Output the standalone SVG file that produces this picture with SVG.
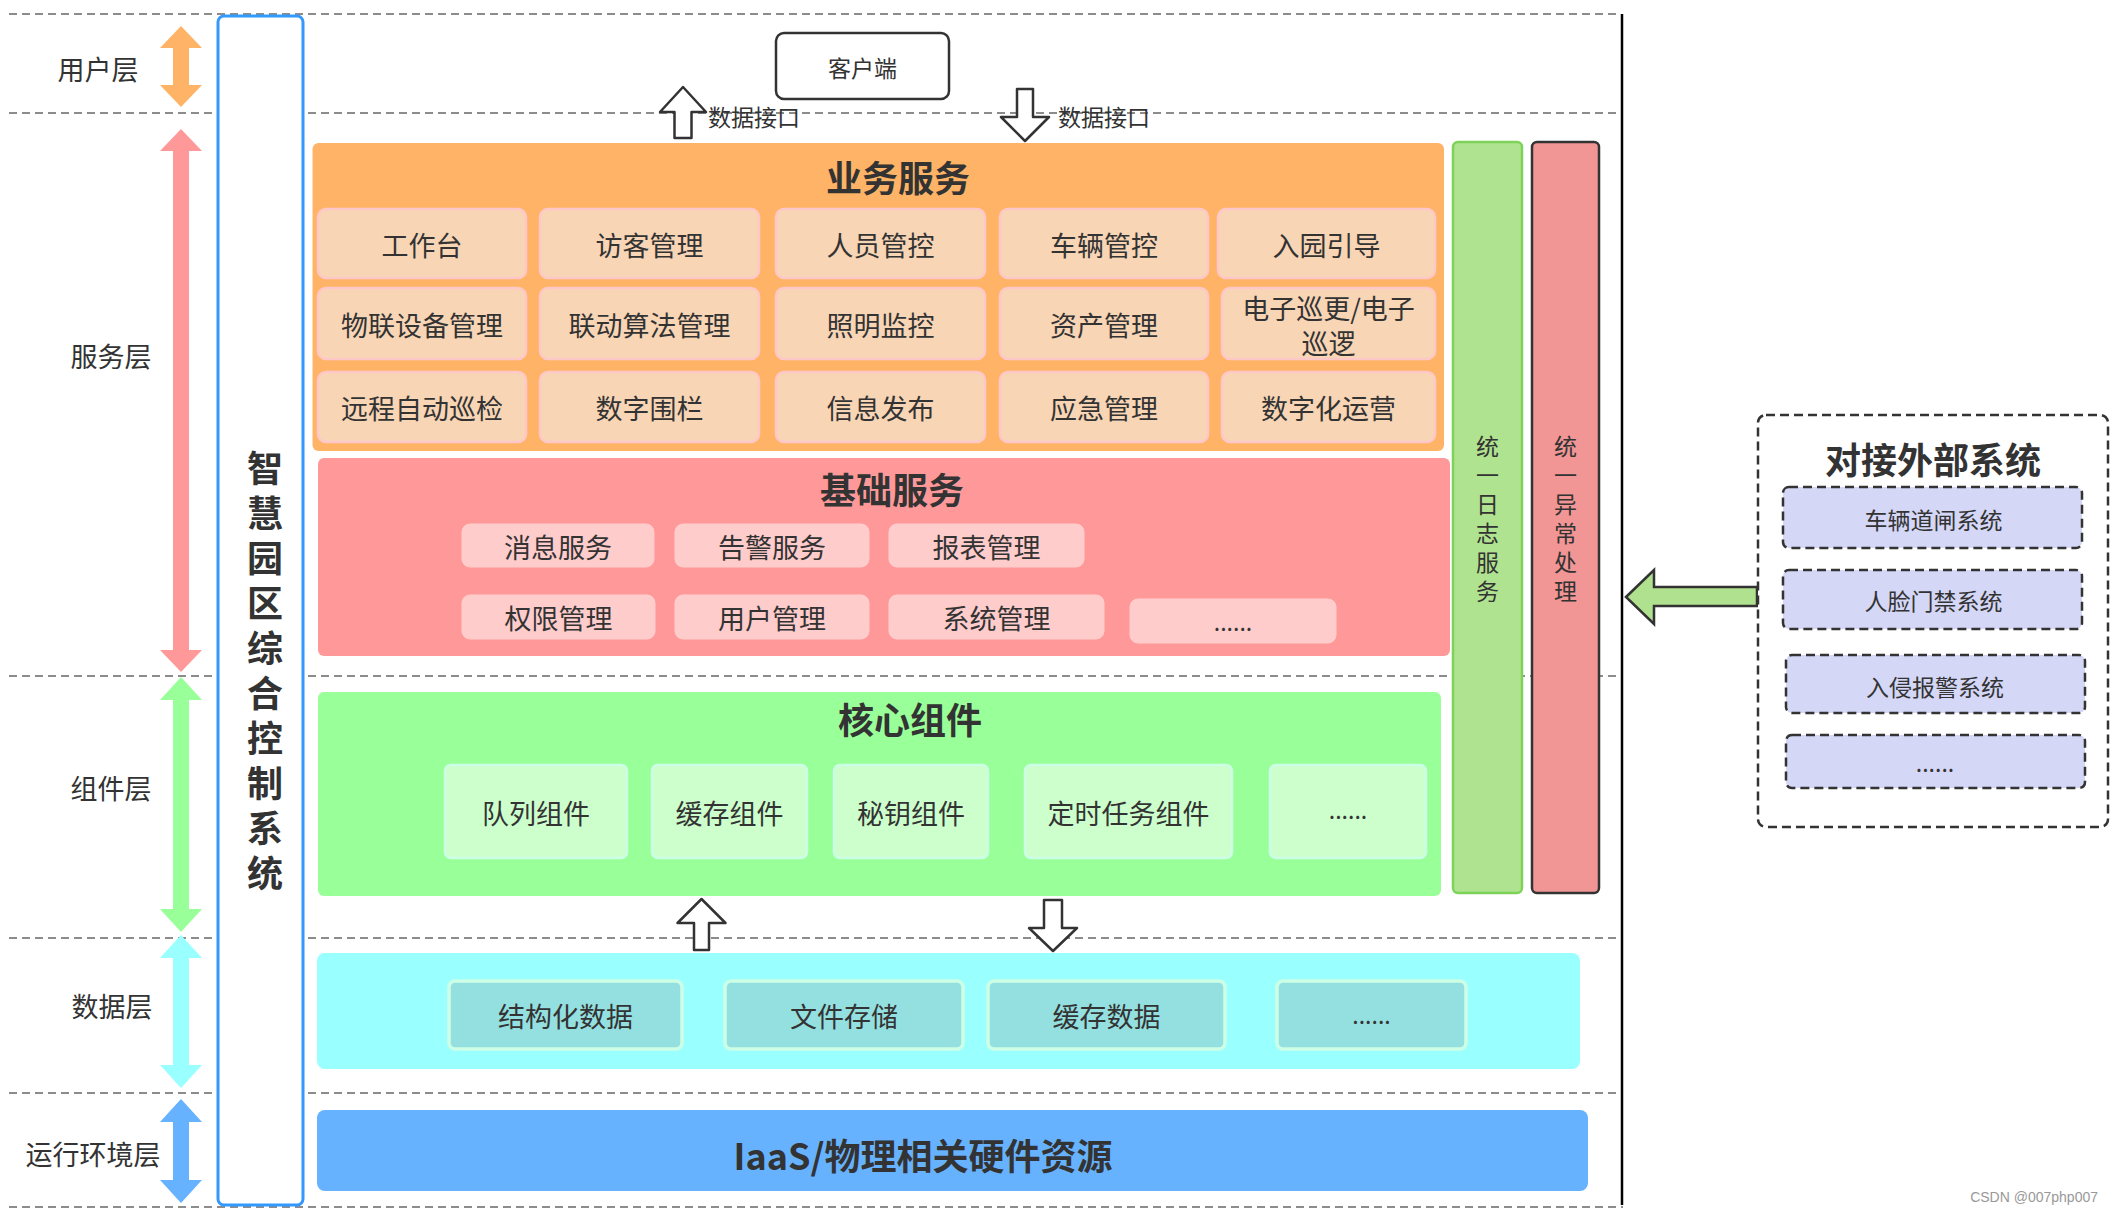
<svg xmlns="http://www.w3.org/2000/svg" width="2113" height="1215" viewBox="0 0 2113 1215">
<style>
.t{font-family:"Noto Sans CJK SC","Noto Sans",sans-serif;fill:#333;text-anchor:middle;dominant-baseline:central}
.v{font-family:"Noto Sans CJK SC","Noto Sans",sans-serif;fill:#333;writing-mode:vertical-rl;text-anchor:start}
.f27{font-size:27px}
.f23{font-size:23px}
.f26{font-size:26px}
.b36{font-size:36px;font-weight:bold}
.dash{stroke:#8c8c8c;stroke-width:2;stroke-dasharray:8 5;fill:none}
.oc{fill:#f8d5b5;stroke:#ffc8c8;stroke-width:2.5}
.pc{fill:#ffcccc;stroke:#ffcccc;stroke-width:1}
.gc{fill:#ccffcc;stroke:#ccffe6;stroke-width:2.5}
.dc{fill:#94e0e0;stroke:#ccffe6;stroke-width:3.5}
.ec{fill:#d5d7f7;stroke:#333;stroke-width:2.5;stroke-dasharray:9 5}
.hollow{fill:#fff;stroke:#333;stroke-width:2.5;stroke-linejoin:round}
</style>
<rect width="2113" height="1215" fill="#fff"/>
<g id="layer-lines">
<line class="dash" x1="9" y1="14" x2="1620" y2="14"/>
<line class="dash" x1="9" y1="113" x2="1620" y2="113"/>
<line class="dash" x1="9" y1="676" x2="1620" y2="676"/>
<line class="dash" x1="9" y1="938" x2="1620" y2="938"/>
<line class="dash" x1="9" y1="1093" x2="1620" y2="1093"/>
<line class="dash" x1="9" y1="1207" x2="1623" y2="1207"/>
<line x1="1622" y1="14" x2="1622" y2="1205" stroke="#000" stroke-width="2.5"/>
</g>
<g id="layer-labels">
<text class="t f27" x="98" y="68">用户层</text>
<text class="t f27" x="111" y="355">服务层</text>
<text class="t f27" x="111" y="787">组件层</text>
<text class="t f27" x="112" y="1005">数据层</text>
<text class="t f27" x="93" y="1153">运行环境层</text>
<polygon fill="#ffb366" points="181,26 202,48 189,48 189,85 202,85 181,107 160,85 173,85 173,48 160,48"/>
<polygon fill="#ff9999" points="181,129 202,151 189,151 189,650 202,650 181,672 160,650 173,650 173,151 160,151"/>
<polygon fill="#99ff99" points="181,677 202,700 189,700 189,909 202,909 181,932 160,909 173,909 173,700 160,700"/>
<polygon fill="#99ffff" points="181,935 202,958 189,958 189,1065 202,1065 181,1088 160,1065 173,1065 173,958 160,958"/>
<polygon fill="#66b2ff" points="181,1099 202,1122 189,1122 189,1180 202,1180 181,1203 160,1180 173,1180 173,1122 160,1122"/>
</g>
<g id="system">
<rect x="218" y="16" width="85" height="1189" rx="6" fill="#fff" stroke="#3399ff" stroke-width="3"/>
<text class="v" x="265" y="450" font-size="36" font-weight="bold" letter-spacing="9">智慧园区综合控制系统</text>
</g>
<g id="client">
<rect x="776" y="33" width="173" height="66" rx="8" fill="#fff" stroke="#333" stroke-width="2.5"/>
<text class="t f23" x="862.5" y="67">客户端</text>
</g>
<g id="connectors">
<polygon class="hollow" points="683,87 706,112 691.5,112 691.5,138 674.5,138 674.5,112 660,112"/>
<polygon class="hollow" points="1017,89 1033,89 1033,117 1049,117 1025,141 1001,117 1017,117"/>
<text class="t f23" x="754" y="116">数据接口</text>
<text class="t f23" x="1104" y="116">数据接口</text>
<polygon class="hollow" points="701.5,899 725.5,923 709,923 709,950 694,950 694,923 677.5,923"/>
<polygon class="hollow" points="1044,900 1062,900 1062,928 1077,928 1053,951 1029,928 1044,928"/>
<polygon fill="#b0e18e" stroke="#333" stroke-width="2.5" stroke-linejoin="miter" points="1626,597 1654,570 1654,587 1757,587 1757,606 1654,606 1654,624"/>
</g>
<g id="business">
<rect x="312.5" y="143" width="1131.5" height="308" rx="6" fill="#ffb366"/>
<text class="t b36" x="898" y="176">业务服务</text>
<rect class="oc" x="318" y="209" width="208" height="69" rx="8"/>
<rect class="oc" x="540" y="209" width="219" height="69" rx="8"/>
<rect class="oc" x="776" y="209" width="209" height="69" rx="8"/>
<rect class="oc" x="1000" y="209" width="208" height="69" rx="8"/>
<rect class="oc" x="1218" y="209" width="217" height="69" rx="8"/>
<rect class="oc" x="318" y="288" width="208" height="71" rx="8"/>
<rect class="oc" x="540" y="288" width="219" height="71" rx="8"/>
<rect class="oc" x="776" y="288" width="209" height="71" rx="8"/>
<rect class="oc" x="1000" y="288" width="208" height="71" rx="8"/>
<rect class="oc" x="1222" y="288" width="213" height="71" rx="8"/>
<rect class="oc" x="318" y="372" width="208" height="70" rx="8"/>
<rect class="oc" x="540" y="372" width="219" height="70" rx="8"/>
<rect class="oc" x="776" y="372" width="209" height="70" rx="8"/>
<rect class="oc" x="1000" y="372" width="208" height="70" rx="8"/>
<rect class="oc" x="1222" y="372" width="213" height="70" rx="8"/>
<text class="t f27" x="422" y="244">工作台</text>
<text class="t f27" x="649.5" y="244">访客管理</text>
<text class="t f27" x="880.5" y="244">人员管控</text>
<text class="t f27" x="1104" y="244">车辆管控</text>
<text class="t f27" x="1326.5" y="244">入园引导</text>
<text class="t f27" x="422" y="324">物联设备管理</text>
<text class="t f27" x="649.5" y="324">联动算法管理</text>
<text class="t f27" x="880.5" y="324">照明监控</text>
<text class="t f27" x="1104" y="324">资产管理</text>
<text class="t f27" x="1328.5"><tspan x="1328.5" y="307">电子巡更/电子</tspan><tspan x="1328.5" y="342">巡逻</tspan></text>
<text class="t f27" x="422" y="407">远程自动巡检</text>
<text class="t f27" x="649.5" y="407">数字围栏</text>
<text class="t f27" x="880.5" y="407">信息发布</text>
<text class="t f27" x="1104" y="407">应急管理</text>
<text class="t f27" x="1328.5" y="407">数字化运营</text>
</g>
<g id="basic">
<rect x="318" y="458" width="1132" height="198" rx="6" fill="#ff9999"/>
<text class="t b36" x="892" y="488">基础服务</text>
<rect class="pc" x="462" y="524" width="192" height="43" rx="8"/>
<rect class="pc" x="675" y="524" width="194" height="43" rx="8"/>
<rect class="pc" x="889" y="524" width="195" height="43" rx="8"/>
<rect class="pc" x="462" y="595" width="193" height="44" rx="8"/>
<rect class="pc" x="675" y="595" width="194" height="44" rx="8"/>
<rect class="pc" x="889" y="595" width="215" height="44" rx="8"/>
<rect class="pc" x="1130" y="599" width="206" height="44" rx="8"/>
<text class="t f27" x="558" y="546">消息服务</text>
<text class="t f27" x="772" y="546">告警服务</text>
<text class="t f27" x="986.5" y="546">报表管理</text>
<text class="t f27" x="558.5" y="617">权限管理</text>
<text class="t f27" x="772" y="617">用户管理</text>
<text class="t f27" x="996.5" y="617">系统管理</text>
<text class="t f23" x="1233" y="621">......</text>
</g>
<g id="core">
<rect x="318" y="692" width="1123" height="204" rx="6" fill="#99ff99"/>
<text class="t b36" x="910" y="718">核心组件</text>
<rect class="gc" x="445" y="765" width="182" height="93" rx="6"/>
<rect class="gc" x="652" y="765" width="155" height="93" rx="6"/>
<rect class="gc" x="834" y="765" width="154" height="93" rx="6"/>
<rect class="gc" x="1025" y="765" width="207" height="93" rx="6"/>
<rect class="gc" x="1270" y="765" width="156" height="93" rx="6"/>
<text class="t f27" x="536" y="812">队列组件</text>
<text class="t f27" x="729.5" y="812">缓存组件</text>
<text class="t f27" x="911" y="812">秘钥组件</text>
<text class="t f27" x="1128.5" y="812">定时任务组件</text>
<text class="t f23" x="1348" y="809">......</text>
</g>
<g id="log-service">
<rect x="1453" y="142" width="69" height="751" rx="5" fill="#b0e38f" stroke="#7dd35a" stroke-width="2.5"/>
<text class="v" x="1487.5" y="434.5" font-size="23" letter-spacing="6">统一日志服务</text>
</g>
<g id="exception-service">
<rect x="1532" y="142" width="67" height="751" rx="5" fill="#f19595" stroke="#333" stroke-width="2.5"/>
<text class="v" x="1565.5" y="434.5" font-size="23" letter-spacing="6">统一异常处理</text>
</g>
<g id="data">
<rect x="317" y="953" width="1263" height="116" rx="8" fill="#99ffff"/>
<rect class="dc" x="449" y="981" width="233" height="68" rx="6"/>
<rect class="dc" x="725" y="981" width="238" height="68" rx="6"/>
<rect class="dc" x="988" y="981" width="237" height="68" rx="6"/>
<rect class="dc" x="1277" y="981" width="189" height="68" rx="6"/>
<text class="t f27" x="565.5" y="1015">结构化数据</text>
<text class="t f27" x="844" y="1015">文件存储</text>
<text class="t f27" x="1106.5" y="1015">缓存数据</text>
<text class="t f23" x="1371.5" y="1014">......</text>
</g>
<g id="iaas">
<rect x="317" y="1110" width="1271" height="81" rx="8" fill="#66b2ff"/>
<text class="t b36" x="923" y="1154">IaaS/物理相关硬件资源</text>
</g>
<g id="external">
<rect x="1758" y="415" width="350" height="412" rx="8" fill="#fff" stroke="#333" stroke-width="2.5" stroke-dasharray="9 5"/>
<text class="t b36" x="1933" y="458">对接外部系统</text>
<rect class="ec" x="1783" y="487" width="299" height="61" rx="6"/>
<rect class="ec" x="1783" y="570" width="299" height="59" rx="6"/>
<rect class="ec" x="1786" y="655" width="299" height="58" rx="6"/>
<rect class="ec" x="1786" y="735" width="299" height="53" rx="6"/>
<text class="t f23" x="1933.5" y="519">车辆道闸系统</text>
<text class="t f23" x="1933.5" y="600">人脸门禁系统</text>
<text class="t f23" x="1935" y="686">入侵报警系统</text>
<text class="t f23" x="1935" y="762">......</text>
</g>
<text x="2098" y="1197" font-family="Liberation Sans, sans-serif" font-size="14" fill="#999" text-anchor="end" dominant-baseline="central">CSDN @007php007</text>
</svg>
